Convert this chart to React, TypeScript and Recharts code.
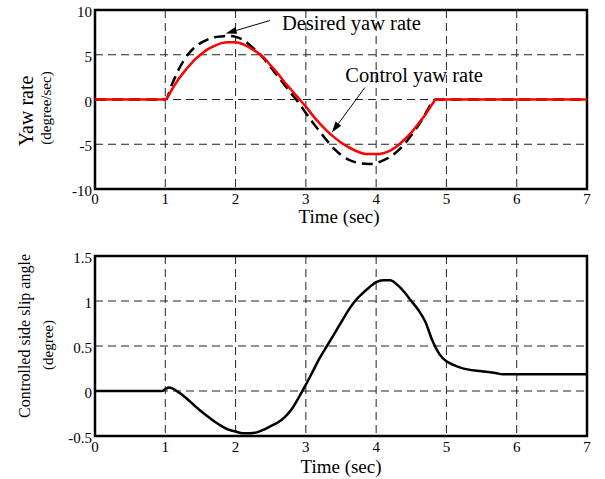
import React from "react";
import {
  LineChart,
  Line,
  XAxis,
  YAxis,
  CartesianGrid,
  ReferenceArea,
  ReferenceLine,
  ReferenceDot,
  Label,
} from "recharts";

const FONT = "Liberation Serif";

// ---- Data: top chart (yaw rate, degree/sec) ----
const TIME_YAW = [0, 1.0, 1.1, 1.2, 1.3, 1.4, 1.5, 1.6, 1.7, 1.8, 1.9, 2.0, 2.1, 2.2, 2.3, 2.4, 2.5, 2.6, 2.7, 2.8, 2.9, 3.0, 3.1, 3.2, 3.3, 3.4, 3.5, 3.6, 3.7, 3.8, 3.9, 4.0, 4.1, 4.2, 4.3, 4.4, 4.5, 4.6, 4.7, 4.8, 4.85, 7];
const DESIRED_YAW = [0, 0, 1.8, 3.5, 4.8, 5.7, 6.3, 6.7, 6.95, 7.05, 7.1, 7.0, 6.7, 6.1, 5.4, 4.6, 3.6, 2.6, 1.6, 0.6, -0.4, -1.5, -2.6, -3.6, -4.6, -5.5, -6.2, -6.7, -7.0, -7.15, -7.2, -7.1, -6.8, -6.4, -5.8, -5.0, -4.0, -2.9, -1.6, -0.3, 0, 0];
const CONTROL_YAW = [0, 0, 1.2, 2.4, 3.4, 4.3, 5.0, 5.6, 6.0, 6.3, 6.4, 6.4, 6.2, 5.8, 5.3, 4.7, 3.8, 2.9, 1.9, 1.0, 0.1, -0.8, -1.8, -2.7, -3.5, -4.2, -4.8, -5.3, -5.7, -6.0, -6.1, -6.1, -6.0, -5.7, -5.2, -4.5, -3.7, -2.7, -1.7, -0.5, 0, 0];

// ---- Data: bottom chart (controlled side slip angle, degree) ----
const TIME_SLIP = [0, 0.95, 1.0, 1.05, 1.1, 1.2, 1.3, 1.4, 1.5, 1.6, 1.7, 1.8, 1.9, 2.0, 2.1, 2.2, 2.3, 2.4, 2.5, 2.6, 2.7, 2.8, 2.9, 3.0, 3.1, 3.2, 3.3, 3.4, 3.5, 3.6, 3.7, 3.8, 3.9, 4.0, 4.1, 4.2, 4.3, 4.4, 4.5, 4.6, 4.7, 4.8, 4.9, 5.0, 5.1, 5.2, 5.3, 5.5, 5.7, 5.8, 6.5, 7];
const SLIP_ANGLE = [0, 0, 0.02, 0.04, 0.03, -0.02, -0.08, -0.15, -0.22, -0.28, -0.34, -0.39, -0.43, -0.45, -0.47, -0.47, -0.46, -0.43, -0.39, -0.35, -0.29, -0.2, -0.07, 0.07, 0.22, 0.37, 0.5, 0.63, 0.76, 0.89, 1.0, 1.08, 1.15, 1.21, 1.23, 1.23, 1.18, 1.1, 1.0, 0.9, 0.77, 0.56, 0.41, 0.33, 0.29, 0.26, 0.24, 0.22, 0.2, 0.185, 0.185, 0.185];

// ---- Ticks ----
const X_TICKS = [0, 1, 2, 3, 4, 5, 6, 7];
const YAW_TICKS = [-10, -5, 0, 5, 10];
const SLIP_TICKS = [-0.5, 0, 0.5, 1, 1.5];

// ---- Annotations (data coordinates) ----
const DESIRED_ARROW = [{ x: 2.49, y: 8.83 }, { x: 1.86, y: 7.37 }];
const DESIRED_TEXT = { x: 2.66, y: 7.77, text: "Desired yaw rate" };
const CONTROL_ARROW = [{ x: 3.84, y: 1.34 }, { x: 3.37, y: -3.69 }];
const CONTROL_TEXT = { x: 3.56, y: 1.96, text: "Control yaw rate" };

const yawData = TIME_YAW.map((t, i) => ({ t, desired: DESIRED_YAW[i], control: CONTROL_YAW[i] }));
const slipData = TIME_SLIP.map((t, i) => ({ t, slip: SLIP_ANGLE[i] }));

const YTick = (props: any) => {
  const { x, y, payload } = props;
  return (
    <text x={x} y={y + 2} textAnchor="end" dominantBaseline="central" fontSize={15} fontFamily={FONT} fill="#000">
      {String(payload.value)}
    </text>
  );
};

const makeXTick = (dy: number) => (props: any) => {
  const { x, y, payload } = props;
  return (
    <text x={x} y={y + dy} textAnchor="middle" fontSize={15} fontFamily={FONT} fill="#000">
      {String(payload.value)}
    </text>
  );
};

const ArrowShape = (p: any) => {
  const { x1, y1, x2, y2 } = p;
  const ang = Math.atan2(y2 - y1, x2 - x1);
  const L = 11;
  const W = 3.5;
  const bx = x2 - L * Math.cos(ang);
  const by = y2 - L * Math.sin(ang);
  const nx = -Math.sin(ang) * W;
  const ny = Math.cos(ang) * W;
  return (
    <g>
      <line x1={x1} y1={y1} x2={bx} y2={by} stroke="#000" strokeWidth={1} />
      <polygon points={`${x2},${y2} ${bx + nx},${by + ny} ${bx - nx},${by - ny}`} fill="#000" />
    </g>
  );
};

const makeTextShape = (text: string) => (p: any) => (
  <text x={p.cx} y={p.cy} fontSize={20.5} fontFamily={FONT} fill="#000">
    {text}
  </text>
);

const rotText = (x: number, y: number, text: string, size: number) => (
  <text
    x={x}
    y={y}
    transform={`rotate(-90, ${x}, ${y})`}
    textAnchor="middle"
    dominantBaseline="central"
    fontSize={size}
    fontFamily={FONT}
    fill="#000"
  >
    {text}
  </text>
);

export default function App() {
  return (
    <div style={{ position: "absolute", left: 0, top: 0, width: 605, height: 479, background: "#fff" }}>
      <LineChart width={605} height={235} data={yawData} margin={{ top: 10, right: 18, bottom: 0, left: 0 }}>
        <CartesianGrid stroke="#222" strokeDasharray="8 5" strokeWidth={1} />
        <XAxis
          dataKey="t"
          type="number"
          domain={[0, 7]}
          ticks={X_TICKS}
          axisLine={false}
          tickLine={false}
          tickSize={0}
          tickMargin={0}
          height={46}
          tick={makeXTick(15)}
          interval={0}
        >
          <Label
            content={() => (
              <text x={339} y={223} textAnchor="middle" fontSize={19} fontFamily={FONT} fill="#000">
                Time (sec)
              </text>
            )}
          />
        </XAxis>
        <YAxis
          type="number"
          domain={[-10, 10]}
          ticks={YAW_TICKS}
          axisLine={false}
          tickLine={false}
          tickSize={0}
          tickMargin={3}
          width={95}
          tick={YTick}
          interval={0}
        >
          <Label
            content={() => (
              <g>
                {rotText(26, 111, "Yaw rate", 20)}
                {rotText(46, 108, "(degree/sec)", 15)}
              </g>
            )}
          />
        </YAxis>
        <Line type="monotone" dataKey="desired" stroke="#000" strokeWidth={2.5} strokeDasharray="11 6" dot={false} isAnimationActive={false} />
        <Line type="monotone" dataKey="control" stroke="#ff0000" strokeWidth={2.5} dot={false} isAnimationActive={false} />
        <ReferenceLine segment={DESIRED_ARROW} shape={ArrowShape} ifOverflow="visible" />
        <ReferenceLine segment={CONTROL_ARROW} shape={ArrowShape} ifOverflow="visible" />
        <ReferenceDot x={DESIRED_TEXT.x} y={DESIRED_TEXT.y} shape={makeTextShape(DESIRED_TEXT.text)} ifOverflow="visible" />
        <ReferenceDot x={CONTROL_TEXT.x} y={CONTROL_TEXT.y} shape={makeTextShape(CONTROL_TEXT.text)} ifOverflow="visible" />
        <ReferenceArea x1={0} x2={7} y1={-10} y2={10} fill="none" stroke="#000" strokeWidth={2.5} ifOverflow="visible" />
      </LineChart>
      <LineChart width={605} height={244} data={slipData} margin={{ top: 21, right: 18, bottom: 0, left: 0 }}>
        <CartesianGrid stroke="#222" strokeDasharray="8 5" strokeWidth={1} />
        <XAxis
          dataKey="t"
          type="number"
          domain={[0, 7]}
          ticks={X_TICKS}
          axisLine={false}
          tickLine={false}
          tickSize={0}
          tickMargin={0}
          height={43}
          tick={makeXTick(16)}
          interval={0}
        >
          <Label
            content={() => (
              <text x={341} y={238} textAnchor="middle" fontSize={19} fontFamily={FONT} fill="#000">
                Time (sec)
              </text>
            )}
          />
        </XAxis>
        <YAxis
          type="number"
          domain={[-0.5, 1.5]}
          ticks={SLIP_TICKS}
          axisLine={false}
          tickLine={false}
          tickSize={0}
          tickMargin={3}
          width={95}
          tick={YTick}
          interval={0}
        >
          <Label
            content={() => (
              <g>
                {rotText(24, 101, "Controlled side slip angle", 16)}
                {rotText(48, 110, "(degree)", 15)}
              </g>
            )}
          />
        </YAxis>
        <Line type="monotone" dataKey="slip" stroke="#000" strokeWidth={2.5} dot={false} isAnimationActive={false} />
        <ReferenceArea x1={0} x2={7} y1={-0.5} y2={1.5} fill="none" stroke="#000" strokeWidth={2.5} ifOverflow="visible" />
      </LineChart>
    </div>
  );
}
